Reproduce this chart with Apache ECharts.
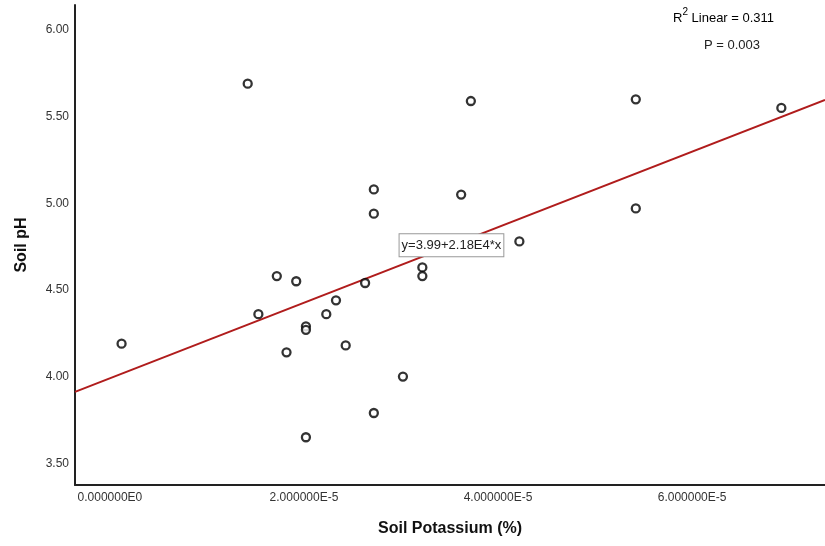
<!DOCTYPE html>
<html>
<head>
<meta charset="utf-8">
<script src="https://cdn.jsdelivr.net/npm/echarts@6/dist/echarts.min.js"></script>
<style>html,body{margin:0;padding:0;background:#fff}#c{width:825px;height:546px}</style>
</head>
<body>
<div id="c"></div>
<script>
// Data (Soil Potassium %, Soil pH)
const potassium = [1.2e-6, 1.42e-5, 1.53e-5, 1.72e-5, 1.82e-5, 1.92e-5, 2.02e-5, 2.02e-5, 2.02e-5,
  2.23e-5, 2.33e-5, 2.43e-5, 2.63e-5, 2.72e-5, 2.72e-5, 2.72e-5, 3.02e-5, 3.22e-5, 3.22e-5,
  3.62e-5, 3.72e-5, 4.22e-5, 5.42e-5, 5.42e-5, 6.92e-5];
const soilPH = [4.19, 5.69, 4.36, 4.58, 4.14, 4.55, 4.29, 4.27, 3.65,
  4.36, 4.44, 4.18, 4.54, 5.08, 4.94, 3.79, 4.00, 4.63, 4.58,
  5.05, 5.59, 4.78, 5.60, 4.97, 5.55];
const xTicks = [0, 2e-5, 4e-5, 6e-5];
const yTicks = [3.5, 4.0, 4.5, 5.0, 5.5, 6.0];
const fitIntercept = 3.99;
const fitSlope = 2.18e4;
const fitLabel = 'y=3.99+2.18E4*x';
const r2Text = '0.311';
const pText = 'P = 0.003';
const xRange = [-3.6e-6, 7.37e-5];
const yRange = [3.3745, 6.144];
const fitLabelX = 3.52e-5;

const points = potassium.map((x, i) => [x, soilPH[i]]);
const fitLine = xRange.map(x => [x, fitIntercept + fitSlope * x]);

const chart = echarts.init(document.getElementById('c'), null, {renderer: 'canvas'});
const font = '"Liberation Sans", Arial, sans-serif';
chart.setOption({
  animation: false,
  backgroundColor: '#fff',
  grid: {left: 75, right: 0, top: 5, bottom: 61, containLabel: false},
  xAxis: {
    type: 'value', min: xRange[0], max: xRange[1],
    name: 'Soil Potassium (%)', nameLocation: 'middle', nameGap: 36,
    nameTextStyle: {fontFamily: font, fontSize: 16, fontWeight: 'bold', color: '#111'},
    axisLine: {show: true, onZero: false, lineStyle: {color: '#222', width: 2}},
    axisTick: {show: false},
    splitLine: {show: false},
    axisLabel: {
      customValues: xTicks, margin: 7, fontFamily: font, fontSize: 12, color: '#333',
      formatter: v => Number(v).toExponential(6).replace('e+', 'E').replace('e', 'E')
    }
  },
  yAxis: {
    type: 'value', min: yRange[0], max: yRange[1],
    name: 'Soil pH', nameLocation: 'middle', nameGap: 45,
    nameTextStyle: {fontFamily: font, fontSize: 16, fontWeight: 'bold', color: '#111'},
    axisLine: {show: true, onZero: false, lineStyle: {color: '#222', width: 2}},
    axisTick: {show: false},
    splitLine: {show: false},
    axisLabel: {
      customValues: yTicks, margin: 6, fontFamily: font, fontSize: 12, color: '#333',
      formatter: v => Number(v).toFixed(2)
    }
  },
  series: [
    {
      type: 'line', data: fitLine, symbol: 'none', silent: true, z: 1,
      lineStyle: {color: '#b01c1c', width: 2},
      markPoint: {
        symbol: 'rect', symbolSize: 1, itemStyle: {color: 'rgba(0,0,0,0)'},
        data: [{coord: [fitLabelX, fitIntercept + fitSlope * fitLabelX]}],
        label: {
          show: true, position: 'inside', formatter: fitLabel,
          fontFamily: font, fontSize: 13, color: '#222',
          backgroundColor: '#fff', borderColor: '#999', borderWidth: 1,
          padding: [5, 2, 4, 2]
        }
      }
    },
    {
      type: 'scatter', data: points, symbol: 'circle', symbolSize: 8, z: 3,
      itemStyle: {color: '#fff', borderColor: '#000', borderWidth: 2.3}
    }
  ],
  graphic: [
    {
      type: 'text', left: 673, top: 7,
      style: {
        text: '{a|R}{s|2}{a| Linear = ' + r2Text + '}',
        rich: {
          a: {fontFamily: font, fontSize: 13, color: '#222', verticalAlign: 'bottom', lineHeight: 18},
          s: {fontFamily: font, fontSize: 10, color: '#222', verticalAlign: 'top', lineHeight: 18, padding: [0, 0, 7, 0]}
        }
      }
    },
    {
      type: 'text', left: 704, top: 39,
      style: {text: pText, fontFamily: font, fontSize: 13, fill: '#222'}
    }
  ]
});
</script>
</body>
</html>
